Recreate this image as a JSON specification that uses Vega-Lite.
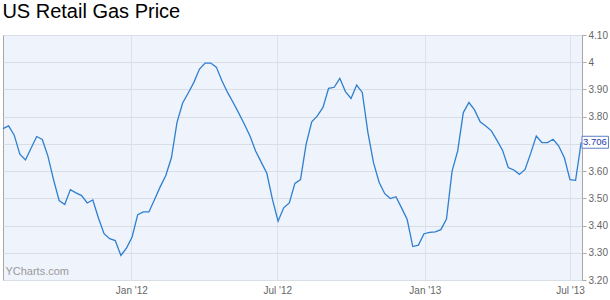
{
  "$schema": "https://vega.github.io/schema/vega-lite/v6.json",
  "width": 579,
  "height": 245,
  "autosize": "none",
  "padding": {"left": 3, "top": 35, "right": 28, "bottom": 20},
  "background": "white",
  "title": {"text": "US Retail Gas Price", "anchor": "start", "font": "Liberation Sans", "fontSize": 20, "fontWeight": "normal", "color": "#000000", "offset": 8, "dx": 2},
  "config": {"view": {"fill": "#EEF3FC", "stroke": "#A6A6A6", "strokeWidth": 1}},
  "datasets": {
    "gas": [
      {"date": "2011-07-25", "price": 3.756},
      {"date": "2011-08-01", "price": 3.766},
      {"date": "2011-08-08", "price": 3.732},
      {"date": "2011-08-15", "price": 3.662},
      {"date": "2011-08-22", "price": 3.641},
      {"date": "2011-08-29", "price": 3.684},
      {"date": "2011-09-05", "price": 3.727},
      {"date": "2011-09-12", "price": 3.716},
      {"date": "2011-09-19", "price": 3.655},
      {"date": "2011-09-26", "price": 3.569},
      {"date": "2011-10-03", "price": 3.492},
      {"date": "2011-10-10", "price": 3.477},
      {"date": "2011-10-17", "price": 3.532},
      {"date": "2011-10-24", "price": 3.520},
      {"date": "2011-10-31", "price": 3.510},
      {"date": "2011-11-07", "price": 3.483},
      {"date": "2011-11-14", "price": 3.494},
      {"date": "2011-11-21", "price": 3.428},
      {"date": "2011-11-28", "price": 3.370},
      {"date": "2011-12-05", "price": 3.352},
      {"date": "2011-12-12", "price": 3.345},
      {"date": "2011-12-19", "price": 3.290},
      {"date": "2011-12-26", "price": 3.317},
      {"date": "2012-01-02", "price": 3.358},
      {"date": "2012-01-09", "price": 3.440},
      {"date": "2012-01-16", "price": 3.450},
      {"date": "2012-01-23", "price": 3.450},
      {"date": "2012-01-30", "price": 3.496},
      {"date": "2012-02-06", "price": 3.542},
      {"date": "2012-02-13", "price": 3.584},
      {"date": "2012-02-20", "price": 3.649},
      {"date": "2012-02-27", "price": 3.779},
      {"date": "2012-03-05", "price": 3.850},
      {"date": "2012-03-12", "price": 3.887},
      {"date": "2012-03-19", "price": 3.926},
      {"date": "2012-03-26", "price": 3.975},
      {"date": "2012-04-02", "price": 3.997},
      {"date": "2012-04-09", "price": 3.997},
      {"date": "2012-04-16", "price": 3.982},
      {"date": "2012-04-23", "price": 3.932},
      {"date": "2012-04-30", "price": 3.889},
      {"date": "2012-05-07", "price": 3.852},
      {"date": "2012-05-14", "price": 3.813},
      {"date": "2012-05-21", "price": 3.772},
      {"date": "2012-05-28", "price": 3.729},
      {"date": "2012-06-04", "price": 3.674},
      {"date": "2012-06-11", "price": 3.633},
      {"date": "2012-06-18", "price": 3.592},
      {"date": "2012-06-25", "price": 3.496},
      {"date": "2012-07-02", "price": 3.416},
      {"date": "2012-07-09", "price": 3.465},
      {"date": "2012-07-16", "price": 3.483},
      {"date": "2012-07-23", "price": 3.555},
      {"date": "2012-07-30", "price": 3.569},
      {"date": "2012-08-06", "price": 3.699},
      {"date": "2012-08-13", "price": 3.781},
      {"date": "2012-08-20", "price": 3.803},
      {"date": "2012-08-27", "price": 3.834},
      {"date": "2012-09-03", "price": 3.904},
      {"date": "2012-09-10", "price": 3.908},
      {"date": "2012-09-17", "price": 3.941},
      {"date": "2012-09-24", "price": 3.892},
      {"date": "2012-10-01", "price": 3.867},
      {"date": "2012-10-08", "price": 3.916},
      {"date": "2012-10-15", "price": 3.889},
      {"date": "2012-10-22", "price": 3.742},
      {"date": "2012-10-29", "price": 3.631},
      {"date": "2012-11-05", "price": 3.559},
      {"date": "2012-11-12", "price": 3.517},
      {"date": "2012-11-19", "price": 3.499},
      {"date": "2012-11-26", "price": 3.506},
      {"date": "2012-12-03", "price": 3.465},
      {"date": "2012-12-10", "price": 3.422},
      {"date": "2012-12-17", "price": 3.323},
      {"date": "2012-12-24", "price": 3.328},
      {"date": "2012-12-31", "price": 3.370},
      {"date": "2013-01-07", "price": 3.375},
      {"date": "2013-01-14", "price": 3.377},
      {"date": "2013-01-21", "price": 3.385},
      {"date": "2013-01-28", "price": 3.424},
      {"date": "2013-02-04", "price": 3.600},
      {"date": "2013-02-11", "price": 3.674},
      {"date": "2013-02-18", "price": 3.815},
      {"date": "2013-02-25", "price": 3.852},
      {"date": "2013-03-04", "price": 3.825},
      {"date": "2013-03-11", "price": 3.781},
      {"date": "2013-03-18", "price": 3.766},
      {"date": "2013-03-25", "price": 3.748},
      {"date": "2013-04-01", "price": 3.713},
      {"date": "2013-04-08", "price": 3.676},
      {"date": "2013-04-15", "price": 3.613},
      {"date": "2013-04-22", "price": 3.604},
      {"date": "2013-04-29", "price": 3.588},
      {"date": "2013-05-06", "price": 3.606},
      {"date": "2013-05-13", "price": 3.665},
      {"date": "2013-05-20", "price": 3.729},
      {"date": "2013-05-27", "price": 3.705},
      {"date": "2013-06-03", "price": 3.705},
      {"date": "2013-06-10", "price": 3.717},
      {"date": "2013-06-17", "price": 3.692},
      {"date": "2013-06-24", "price": 3.649},
      {"date": "2013-07-01", "price": 3.569},
      {"date": "2013-07-08", "price": 3.566},
      {"date": "2013-07-15", "price": 3.706}
    ],
    "last": [
      {"date": "2013-07-16", "dateEnd": "2013-08-18", "price": 3.706, "lo": 3.684, "hi": 3.728, "label": "3.706"}
    ],
    "mark": [
      {"date": "2011-07-28", "price": 3.228, "label": "YCharts.com"}
    ]
  },
  "layer": [
    {
      "data": {"name": "gas"},
      "mark": {"type": "line", "color": "#2F7FCF", "strokeWidth": 1.3},
      "encoding": {
        "x": {
          "field": "date", "type": "temporal",
          "scale": {"domain": ["2011-07-25", "2013-07-16"]},
          "axis": {
            "title": null,
            "values": [{"year": 2012, "month": 1, "date": 1}, {"year": 2012, "month": 7, "date": 1}, {"year": 2013, "month": 1, "date": 1}, {"year": 2013, "month": 7, "date": 1}],
            "tickCount": 20,
            "format": "%b '%y",
            "grid": true, "gridColor": "#DCE2EA", "gridWidth": 1,
            "domain": false, "ticks": false, "labelOverlap": false, "labelBound": false,
            "labelColor": "#666666", "labelFont": "Liberation Sans", "labelFontSize": 10, "labelPadding": 5
          }
        },
        "y": {
          "field": "price", "type": "quantitative",
          "scale": {"domain": [3.2, 4.1], "nice": false, "zero": false},
          "axis": {
            "title": null, "orient": "right",
            "values": [3.2, 3.3, 3.4, 3.5, 3.6, 3.7, 3.8, 3.9, 4.0, 4.1],
            "tickCount": 20,
            "labelExpr": "abs(datum.value - 4) < 0.001 ? '4' : (abs(datum.value - 3.7) < 0.001 ? '' : format(datum.value, '.2f'))",
            "labelOverlap": false, "labelBound": false, "labelFlush": false,
            "grid": true, "gridColor": "#D8DEE6", "gridWidth": 1,
            "domain": false, "ticks": true, "tickColor": "#AAAAAA", "tickSize": 4,
            "labelColor": "#666666", "labelFont": "Liberation Sans", "labelFontSize": 10, "labelPadding": 2
          }
        }
      }
    },
    {
      "data": {"name": "mark"},
      "mark": {"type": "text", "align": "left", "baseline": "middle", "font": "Liberation Sans", "fontSize": 11, "color": "#9A9A9A"},
      "encoding": {
        "x": {"field": "date", "type": "temporal"},
        "y": {"field": "price", "type": "quantitative"},
        "text": {"field": "label"}
      }
    },
    {
      "data": {"name": "last"},
      "mark": {"type": "rect", "fill": "#FFFFFF", "stroke": "#5C7FC4", "strokeWidth": 1, "clip": false},
      "encoding": {
        "x": {"field": "date", "type": "temporal"},
        "x2": {"field": "dateEnd"},
        "y": {"field": "lo", "type": "quantitative"},
        "y2": {"field": "hi"}
      }
    },
    {
      "data": {"name": "last"},
      "mark": {"type": "text", "align": "left", "baseline": "middle", "dx": 1, "font": "Liberation Sans", "fontSize": 9.5, "color": "#2438A8"},
      "encoding": {
        "x": {"field": "date", "type": "temporal"},
        "y": {"field": "price", "type": "quantitative"},
        "text": {"field": "label"}
      }
    }
  ]
}
